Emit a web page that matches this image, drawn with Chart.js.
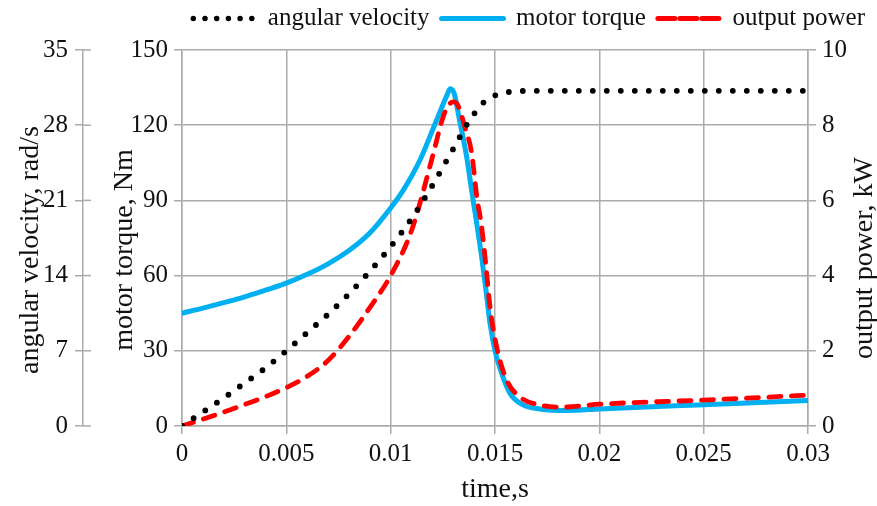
<!DOCTYPE html>
<html>
<head>
<meta charset="utf-8">
<script src="https://cdn.jsdelivr.net/npm/chart.js@4.4.0/dist/chart.umd.min.js"></script>
<style>
html,body{margin:0;padding:0;background:#ffffff;}
#c{display:block;}
</style>
</head>
<body>
<canvas id="c" width="877" height="506"></canvas>
<script>
// ---- data ----
const seriesNames = ['angular velocity', 'motor torque', 'output power'];
const axisTitles = ['angular velocity, rad/s', 'motor torque, Nm', 'output power, kW', 'time,s'];
const xTickLabels = ['0', '0.005', '0.01', '0.015', '0.02', '0.025', '0.03'];

const timeVel  = [0, 0.001, 0.002, 0.003, 0.004, 0.005, 0.006, 0.007, 0.008, 0.009, 0.010, 0.011, 0.012, 0.013, 0.0137, 0.0145, 0.0152, 0.016, 0.017, 0.020, 0.025, 0.030];
const velocity = [0, 1.3, 2.6, 4.0, 5.4, 7.0, 8.7, 10.4, 12.3, 14.4, 16.7, 19.3, 22.4, 25.8, 28.2, 30.2, 30.9, 31.15, 31.2, 31.2, 31.2, 31.2];

const timeTorque = [0, 0.001, 0.002, 0.003, 0.004, 0.005, 0.006, 0.007, 0.008, 0.009, 0.010, 0.0106, 0.0114, 0.0122, 0.0127, 0.01285, 0.01305, 0.0133, 0.01364, 0.01388, 0.01412, 0.01436, 0.01457, 0.01476, 0.0150, 0.01532, 0.01572, 0.01634, 0.01715, 0.0185, 0.020, 0.025, 0.030];
const torque     = [45, 47, 49.2, 51.5, 54.2, 57, 60.5, 64.7, 70, 77, 87, 94, 106, 122, 132, 134.5, 132.5, 122, 107.5, 94, 81, 67.5, 54, 41, 30, 21, 13, 8.4, 6.8, 6.2, 6.8, 8.5, 10.2];

const timePower = [0, 0.001, 0.002, 0.003, 0.004, 0.005, 0.006, 0.007, 0.008, 0.009, 0.010, 0.011, 0.012, 0.0125, 0.0128, 0.0130, 0.0132, 0.01356, 0.01388, 0.01413, 0.01436, 0.01457, 0.01476, 0.01508, 0.01556, 0.0162, 0.01715, 0.0181, 0.020, 0.025, 0.030];
const power     = [0, 0.18, 0.37, 0.57, 0.78, 1.02, 1.32, 1.74, 2.38, 3.15, 4.0, 5.2, 7.15, 8.2, 8.55, 8.62, 8.55, 7.95, 7.26, 6.09, 5.3, 4.23, 3.17, 2.1, 1.22, 0.77, 0.56, 0.5, 0.58, 0.69, 0.82];

// ---- styling ----
const FONT = '"Liberation Serif", "Times New Roman", serif';
const gridColor = '#ABABAB';
const textColor = '#111111';
const blue = '#00B0F0';
const red = '#FF0000';

Chart.defaults.font.family = FONT;
Chart.defaults.color = textColor;

const toPoints = (xs, ys) => xs.map((x, i) => ({x: x, y: ys[i]}));

const legendDash = [[0, 11.7], [], [17, 5]];

const extraPlugin = {
  id: 'extra',
  afterInit(chart) {
    const lg = chart.legend;
    if (lg) {
      const orig = lg.fit.bind(lg);
      lg.fit = function () { orig(); this.height = 56; };
    }
  },
  afterDraw(chart) {
    const ctx = chart.ctx;
    const sv = chart.scales.yVel;
    const st = chart.scales.yTorque;
    const sp = chart.scales.yPow;
    ctx.save();
    ctx.strokeStyle = gridColor;
    ctx.lineWidth = 1.5;
    sv.ticks.forEach(t => {
      const y = sv.getPixelForValue(t.value);
      ctx.beginPath();
      ctx.moveTo(sv.right, y);
      ctx.lineTo(sv.right + 8, y);
      ctx.stroke();
    });
    ctx.fillStyle = textColor;
    ctx.font = '28px ' + FONT;
    ctx.textAlign = 'center';
    ctx.textBaseline = 'middle';
    const drawV = (text, x, y) => {
      ctx.save();
      ctx.translate(x, y);
      ctx.rotate(-Math.PI / 2);
      ctx.fillText(text, 0, 0);
      ctx.restore();
    };
    drawV(axisTitles[0], sv.left + 31, 250);
    drawV(axisTitles[1], st.left + 42, 250);
    drawV(axisTitles[2], sp.right - 12, 258);
    ctx.restore();
  }
};

new Chart(document.getElementById('c'), {
  type: 'line',
  data: {
    datasets: [
      {
        label: seriesNames[0],
        data: toPoints(timeVel, velocity),
        yAxisID: 'yVel',
        borderColor: '#000000',
        backgroundColor: '#000000',
        borderWidth: 5.8,
        borderDash: [0, 14],
        borderCapStyle: 'round',
        borderJoinStyle: 'round',
        pointRadius: 0,
        cubicInterpolationMode: 'monotone',
        fill: false,
        order: 0
      },
      {
        label: seriesNames[1],
        data: toPoints(timeTorque, torque),
        yAxisID: 'yTorque',
        borderColor: blue,
        backgroundColor: blue,
        borderWidth: 5,
        borderCapStyle: 'round',
        borderJoinStyle: 'round',
        pointRadius: 0,
        cubicInterpolationMode: 'monotone',
        fill: false,
        order: 2
      },
      {
        label: seriesNames[2],
        data: toPoints(timePower, power),
        yAxisID: 'yPow',
        borderColor: red,
        backgroundColor: red,
        borderWidth: 4.8,
        borderDash: [12, 10.5],
        borderCapStyle: 'round',
        borderJoinStyle: 'round',
        pointRadius: 0,
        cubicInterpolationMode: 'monotone',
        fill: false,
        order: 1
      }
    ]
  },
  options: {
    responsive: false,
    animation: false,
    devicePixelRatio: 1,
    layout: {padding: {top: -6, left: 0, right: 0, bottom: 0}},
    plugins: {
      tooltip: {enabled: false},
      legend: {
        display: true,
        position: 'top',
        align: 'end',
        labels: {
          usePointStyle: true,
          pointStyle: 'line',
          pointStyleWidth: 62,
          boxHeight: 20,
          padding: 12,
          color: textColor,
          font: {size: 25, family: FONT},
          sort: (a, b) => a.datasetIndex - b.datasetIndex,
          generateLabels(chart) {
            const items = Chart.defaults.plugins.legend.labels.generateLabels(chart);
            return items.map(it => {
              const i = it.datasetIndex;
              it.pointStyle = 'line';
              it.lineDash = legendDash[i];
              it.lineCap = 'round';
              it.lineWidth = i === 0 ? 5.5 : 5;
              it.fillStyle = it.strokeStyle;
              return it;
            });
          }
        }
      }
    },
    scales: {
      x: {
        type: 'linear',
        position: 'bottom',
        min: 0,
        max: 0.03,
        afterFit(s) { s.height = 80; },
        ticks: {
          stepSize: 0.005,
          autoSkip: false,
          maxRotation: 0,
          padding: 5,
          color: textColor,
          font: {size: 25, family: FONT},
          callback: (v, i) => xTickLabels[i]
        },
        grid: {color: gridColor, lineWidth: 1.5, tickLength: 8, drawTicks: true},
        border: {display: true, color: gridColor, width: 1.5},
        title: {display: true, text: axisTitles[3], color: textColor, font: {size: 28, family: FONT}, padding: {top: 0, bottom: 0}}
      },
      yVel: {
        type: 'linear',
        position: 'left',
        weight: 2,
        min: 0,
        max: 35,
        afterFit(s) { s.width = 83; },
        ticks: {stepSize: 7, padding: 7, color: textColor, font: {size: 25, family: FONT}},
        grid: {drawOnChartArea: false, color: gridColor, lineWidth: 1.5, tickLength: 8},
        border: {display: true, color: gridColor, width: 1.5}
      },
      yTorque: {
        type: 'linear',
        position: 'left',
        weight: 1,
        min: 0,
        max: 150,
        afterFit(s) { s.width = 99; },
        ticks: {stepSize: 30, padding: 6, color: textColor, font: {size: 25, family: FONT}},
        grid: {color: gridColor, lineWidth: 1.5, tickLength: 8},
        border: {display: true, color: gridColor, width: 1.5}
      },
      yPow: {
        type: 'linear',
        position: 'right',
        min: 0,
        max: 10,
        afterFit(s) { s.width = 69; },
        ticks: {stepSize: 2, padding: 6, color: textColor, font: {size: 25, family: FONT}},
        grid: {drawOnChartArea: false, color: gridColor, lineWidth: 1.5, tickLength: 8},
        border: {display: true, color: gridColor, width: 1.5}
      }
    }
  },
  plugins: [extraPlugin]
});
</script>
</body>
</html>
